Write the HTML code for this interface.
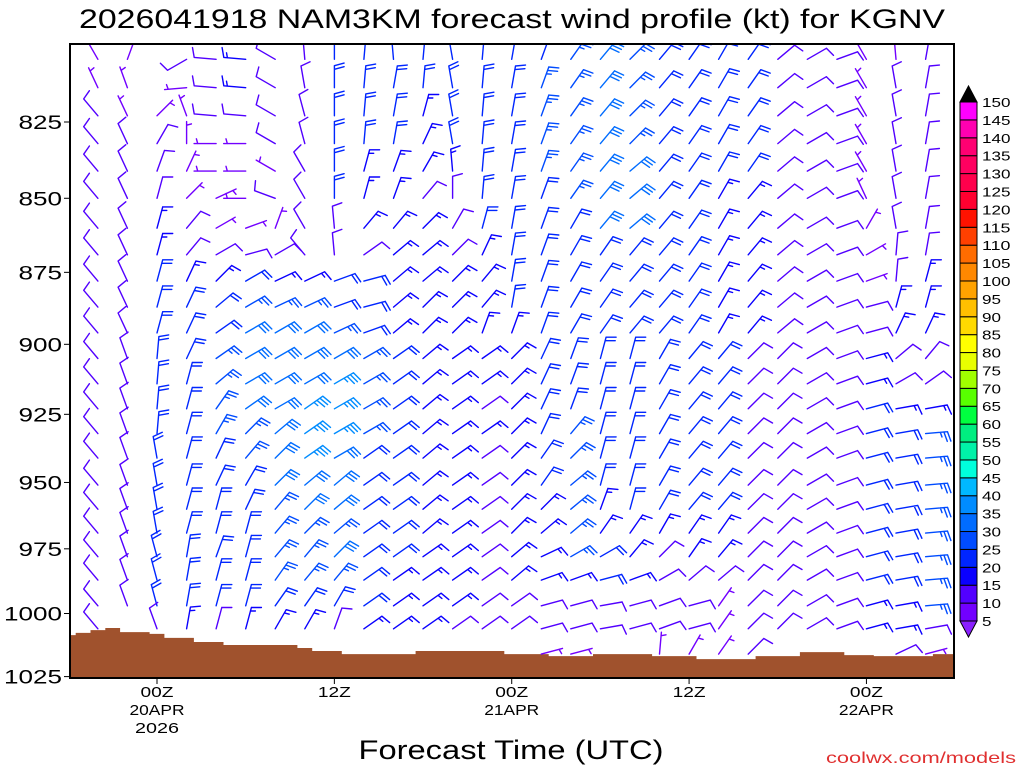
<!DOCTYPE html>
<html><head><meta charset="utf-8">
<style>
html,body{margin:0;padding:0;background:#fff;}
svg{display:block;}
text{font-family:"Liberation Sans",sans-serif;}
</style></head>
<body>
<svg id="chart" width="1024" height="768" viewBox="0 0 1024 768" xmlns="http://www.w3.org/2000/svg">
<defs><clipPath id="plotclip"><rect x="70" y="44" width="884" height="634"/></clipPath></defs>
<text x="512" y="28" text-anchor="middle" font-size="27" textLength="866" lengthAdjust="spacingAndGlyphs" fill="#000">2026041918 NAM3KM forecast wind profile (kt) for KGNV</text>
<g id="ground" clip-path="url(#plotclip)"></g>
<g id="barbs" clip-path="url(#plotclip)"></g>
<rect x="70" y="44" width="884" height="634" fill="none" stroke="#000" stroke-width="2"/>
<g id="yaxis"></g>
<g id="xaxis"></g>
<text x="511" y="759" text-anchor="middle" font-size="27" textLength="305" lengthAdjust="spacingAndGlyphs" fill="#000">Forecast Time (UTC)</text>
<text x="1016" y="763" text-anchor="end" font-size="16" textLength="190" lengthAdjust="spacingAndGlyphs" fill="#e03030">coolwx.com/models</text>
<g id="colorbar"></g>
</svg>
<script>
// ---- data ----
const levels = [805,814,823,832,841,850,860,869,878,887,896,905,914,923,932,941,951,960,969,978,987,997,1006,1016];
const hours = [-4,-2,0,2,4,6,8,10,12,14,16,18,20,22,24,26,28,30,32,34,36,38,40,42,44,46,48,50,52];
const sfcHours = [-6,-5,-4,-3,-2,-1,0,1,2,3,4,5,6,7,8,9,10,11,12,13,14,15,16,17,18,19,20,21,22,23,24,25,26,27,28,29,30,31,32,33,34,35,36,37,38,39,40,41,42,43,44,45,46,47,48,49,50,51,52,53,54];
const sfcPres = [1008.5,1007.6,1006.5,1005.7,1007.3,1007.3,1008.0,1009.6,1009.6,1011.2,1011.2,1012.4,1012.4,1012.4,1012.4,1012.4,1013.6,1014.8,1014.8,1016.0,1016.0,1016.0,1016.0,1016.0,1014.8,1014.8,1014.8,1014.8,1014.8,1014.8,1016.0,1016.0,1016.0,1016.8,1016.8,1016.8,1016.0,1016.0,1016.0,1016.0,1016.8,1016.8,1016.8,1018.0,1018.0,1018.0,1018.0,1016.8,1016.8,1016.8,1015.2,1015.2,1015.2,1016.4,1016.4,1016.8,1016.8,1016.8,1016.8,1016.0,1016.0];
const windDir = [
[330,335,320,320,320,320,320,320,320,320,320,320,320,320,320,320,320,320,320,320,320,320,320,0],
[20,340,335,335,335,335,335,335,335,335,335,340,340,340,340,340,340,340,340,340,340,340,0,0],
[0,0,45,30,20,15,15,15,15,15,15,5,5,5,5,350,350,350,350,345,345,345,340,0],
[240,265,340,0,25,45,40,40,25,25,25,25,15,15,15,15,15,15,15,10,10,10,10,0],
[275,275,275,270,270,65,60,60,45,50,55,55,50,35,30,25,25,15,15,20,15,15,15,0],
[275,275,275,270,270,270,70,75,60,60,60,60,60,55,45,40,30,25,15,15,15,15,15,0],
[300,300,300,300,300,290,20,60,65,65,60,60,60,60,50,45,45,40,40,40,35,35,30,0],
[355,350,345,345,330,330,330,320,65,65,60,60,60,55,55,55,50,45,45,40,40,35,30,0],
[0,0,0,0,0,0,355,355,70,70,65,60,60,60,60,60,50,50,50,45,40,30,20,0],
[5,5,5,5,15,15,40,55,75,75,70,60,60,60,60,55,55,55,55,55,55,55,55,0],
[355,10,10,10,20,20,40,50,50,50,50,55,55,55,55,55,55,55,55,55,55,55,55,0],
[5,5,15,25,30,40,45,50,50,45,45,50,50,50,50,50,50,50,50,55,55,55,55,0],
[350,350,350,350,355,0,30,45,45,45,45,55,55,55,55,55,55,55,55,55,55,55,55,0],
[5,5,5,5,5,5,15,25,40,40,20,55,55,55,55,55,55,55,55,55,55,55,55,0],
[10,10,10,10,10,10,10,10,10,10,20,45,45,45,45,45,45,45,45,50,50,55,55,0],
[20,20,20,20,20,20,20,20,20,20,20,25,25,25,25,35,35,45,50,65,70,75,75,75],
[35,35,35,35,35,35,30,30,30,30,30,20,20,20,40,45,50,50,50,60,70,75,75,75],
[40,40,40,40,40,40,40,35,35,35,35,15,15,15,15,15,15,20,35,60,75,80,80,0],
[45,45,45,45,50,50,50,40,40,40,40,15,15,15,15,15,15,15,35,40,70,75,75,0],
[40,40,40,40,40,40,40,40,40,40,40,30,30,30,30,30,30,30,30,45,60,70,70,5],
[35,35,35,35,35,35,35,35,35,35,35,40,40,40,40,40,40,40,35,35,50,75,75,30],
[30,30,30,30,30,30,30,30,30,30,30,40,40,40,40,40,40,40,35,40,50,35,35,35],
[35,35,35,35,35,40,40,40,40,40,40,45,45,45,45,45,45,45,45,45,45,45,45,45],
[50,50,50,50,50,50,50,50,50,50,50,45,45,45,45,45,45,45,45,45,45,45,45,0],
[60,60,60,60,60,60,60,60,60,60,60,60,60,60,60,60,60,60,60,60,60,60,60,0],
[70,70,70,70,70,70,70,70,70,70,70,70,70,70,70,70,70,70,70,70,70,70,70,0],
[330,330,330,330,330,335,30,60,70,75,75,75,75,75,75,75,75,75,75,75,75,75,75,0],
[355,350,350,350,350,350,350,5,5,15,25,50,60,80,80,80,80,80,80,80,80,80,80,65],
[10,10,10,10,10,10,10,10,15,15,25,40,55,80,85,85,85,85,85,85,85,85,80,75]
];
const windSpd = [
[5,5,10,10,10,10,10,10,10,10,10,10,10,10,10,10,10,10,10,10,10,10,10,0],
[5,5,5,10,10,10,10,10,10,10,10,10,10,10,10,10,10,10,10,10,10,10,0,0],
[0,0,5,10,10,10,15,15,20,20,20,20,20,20,20,20,20,20,20,20,20,20,10,0],
[10,5,5,5,5,5,10,10,15,20,20,20,20,20,20,20,20,20,20,20,20,20,15,0],
[10,10,10,5,5,5,5,10,15,20,20,25,25,25,25,20,20,20,20,20,20,20,10,0],
[15,15,10,5,5,5,5,10,20,25,30,30,30,30,25,25,20,20,20,20,20,20,15,0],
[10,10,10,10,5,10,5,10,15,25,30,30,30,30,30,30,30,25,25,25,25,20,15,0],
[10,10,10,10,10,10,10,10,15,25,30,30,30,35,35,35,30,30,25,25,25,20,15,0],
[20,20,20,20,20,20,10,10,20,20,25,30,35,35,35,30,30,30,25,30,25,20,10,0],
[20,20,20,20,15,15,15,10,20,20,20,25,25,25,25,20,20,20,20,20,20,20,15,0],
[20,20,20,20,15,15,15,15,15,15,15,20,20,20,20,20,20,20,20,20,15,15,15,0],
[20,20,15,15,15,10,15,15,15,15,15,15,15,15,15,15,15,15,15,15,15,15,15,0],
[20,20,20,20,15,10,10,10,15,15,15,15,15,15,15,15,15,15,15,15,15,15,10,0],
[20,20,20,20,20,20,20,15,15,15,15,15,15,10,15,10,10,10,10,10,10,10,10,0],
[20,20,20,20,20,20,20,20,20,20,15,15,15,15,15,15,15,15,15,15,15,10,10,0],
[20,25,25,25,25,20,20,20,20,20,20,20,20,20,20,20,20,15,15,15,15,10,10,5],
[25,25,25,25,25,25,20,20,20,20,20,20,20,20,25,25,25,25,25,25,15,10,10,5],
[30,30,30,30,30,30,30,20,20,20,20,20,20,20,20,20,20,15,15,20,20,10,10,0],
[25,25,25,25,30,30,30,20,20,20,20,20,20,20,20,20,20,20,15,15,15,10,10,0],
[20,20,20,20,20,20,20,20,20,20,20,20,20,20,20,20,20,20,15,10,10,10,10,5],
[20,20,20,20,20,20,20,20,20,20,20,20,20,20,20,20,20,20,15,15,10,10,10,5],
[20,20,20,20,20,15,15,15,15,15,15,20,20,20,20,20,20,20,15,15,10,5,5,5],
[20,20,20,20,20,15,15,15,15,15,15,10,10,10,10,10,10,10,10,10,10,10,10,10],
[10,10,10,10,10,10,10,10,10,10,10,10,10,10,10,10,10,10,10,10,10,10,10,0],
[10,10,10,10,10,10,10,10,10,10,10,10,10,10,10,10,10,10,10,10,10,10,10,0],
[10,10,10,10,10,10,10,10,10,10,10,10,10,10,10,10,10,10,10,10,10,10,10,0],
[5,5,5,5,5,5,5,5,5,10,10,15,15,20,20,20,20,20,20,20,20,15,15,0],
[5,10,10,10,10,10,10,10,10,15,15,10,10,15,20,20,20,20,20,20,20,15,15,10],
[10,10,10,10,10,10,10,10,15,15,15,10,10,15,25,25,25,25,25,25,25,25,10,5]
];
const yTickValues = [825,850,875,900,925,950,975,1000,1025];
const xTickHours = [0,12,24,36,48];
const xTickLine1 = ["00Z","12Z","00Z","12Z","00Z"];
const xTickLine2 = ["20APR","","21APR","","22APR"];
const xTickLine3 = ["2026","","","",""];
const cbarValues = [5,10,15,20,25,30,35,40,45,50,55,60,65,70,75,80,85,90,95,100,105,110,115,120,125,130,135,140,145,150];
const cbarColors = ["#7200ff","#5200ff","#0a00ff","#0026ff","#004cff","#006cff","#008cff","#00b8ff","#00ffdc","#00f2a8","#00ee80","#00ff40","#58ff00","#a0ff00","#e8ff00","#ffff00","#ffda00","#ffc000","#ffa200","#ff8800","#ff6c00","#ff4000","#ff1200","#ff0030","#ff004c","#ff0060","#ff0072","#ff00b0","#ff00ff"];

// ---- scales ----
const NS = "http://www.w3.org/2000/svg";
function yP(p){ return 122 + Math.log(p/825)*2555; }
function xT(h){ return 157 + h*14.78; }
function mk(tag, attrs, parent){ const e=document.createElementNS(NS,tag); for(const k in attrs) e.setAttribute(k,attrs[k]); parent.appendChild(e); return e; }
function colorFor(s){ let i=Math.floor(s/5)-1; if(i<0)i=0; if(i>=cbarColors.length)i=cbarColors.length-1; return cbarColors[i]; }

// ground
const gG=document.getElementById('ground');
let d="M70,678";
for(let i=0;i<sfcHours.length;i++){
  const x0=Math.max(70,xT(sfcHours[i]-0.5)), x1=Math.min(954,xT(sfcHours[i]+0.5));
  const y=yP(sfcPres[i]).toFixed(1);
  d+=" L"+x0.toFixed(1)+","+y+" L"+x1.toFixed(1)+","+y;
}
d+=" L954,678 Z";
const gp=mk('path',{d:d,fill:"#a0522d"},gG);



// barbs
const gB=document.getElementById('barbs');
const L=22, FL=10, SP=3.6, FA=75;
for(let c=0;c<hours.length;c++){
  for(let r=0;r<levels.length;r++){
    const s=windSpd[c][r]; if(!s) continue;
    const dir=windDir[c][r]*Math.PI/180;
    const bx=xT(hours[c]), by=yP(levels[r]);
    const ux=Math.sin(dir), uy=-Math.cos(dir);
    const fa=(windDir[c][r]+FA)*Math.PI/180, fx=Math.sin(fa), fy=-Math.cos(fa);
    const tx=bx+ux*L, ty=by+uy*L;
    let p="M"+bx.toFixed(1)+","+by.toFixed(1)+" L"+tx.toFixed(1)+","+ty.toFixed(1);
    let rem=s, pos=0;
    const flags=Math.floor(rem/50); rem-=flags*50;
    for(let k=0;k<flags;k++){ const ax=tx-ux*pos, ay=ty-uy*pos; const cx=tx-ux*(pos+5), cy=ty-uy*(pos+5);
      p+=" M"+ax.toFixed(1)+","+ay.toFixed(1)+" L"+(ax+fx*FL).toFixed(1)+","+(ay+fy*FL).toFixed(1)+" L"+cx.toFixed(1)+","+cy.toFixed(1); pos+=6; }
    const full=Math.floor(rem/10); rem-=full*10;
    for(let k=0;k<full;k++){ const ax=tx-ux*pos, ay=ty-uy*pos;
      p+=" M"+ax.toFixed(1)+","+ay.toFixed(1)+" l"+(fx*FL).toFixed(1)+","+(fy*FL).toFixed(1); pos+=SP; }
    if(rem>=5){ if(pos===0) pos=SP; const ax=tx-ux*pos, ay=ty-uy*pos;
      p+=" M"+ax.toFixed(1)+","+ay.toFixed(1)+" l"+(fx*FL/2).toFixed(1)+","+(fy*FL/2).toFixed(1); }
    const e=mk('path',{d:p,fill:"none",stroke:colorFor(s),"stroke-width":"1.4","stroke-linecap":"round"},gB);
    
    
  }
}

// y axis
const gY=document.getElementById('yaxis');
yTickValues.forEach(v=>{
  const y=yP(v);
  const t=mk('line',{x1:64,x2:70,y1:y,y2:y,stroke:"#000","stroke-width":"1"},gY);
  
  
  const lab=String(v);
  const tx=mk('text',{x:62,y:y+7,"text-anchor":"end","font-size":"19",textLength:(lab.length*14.5),lengthAdjust:"spacingAndGlyphs",fill:"#000"},gY);
  tx.textContent=lab;
  
  
});
// x axis
const gX=document.getElementById('xaxis');
xTickHours.forEach((h,i)=>{
  const x=xT(h);
  const t=mk('line',{x1:x,x2:x,y1:678,y2:684,stroke:"#000","stroke-width":"1"},gX);
  
  
  [[xTickLine1[i],697],[xTickLine2[i],715],[xTickLine3[i],733]].forEach(([s,y])=>{
    if(!s) return;
    const tx=mk('text',{x:x,y:y,"text-anchor":"middle","font-size":"15",textLength:(s.length*11),lengthAdjust:"spacingAndGlyphs",fill:"#000"},gX);
    tx.textContent=s;
    
    
  });
});

// colorbar
const gC=document.getElementById('colorbar');
function yC(v){ return 621 - (v-5)/145*519; }
for(let i=0;i<cbarColors.length;i++){
  const y0=yC(cbarValues[i+1]), y1=yC(cbarValues[i]);
  const r=mk('rect',{x:960,y:y0,width:17,height:y1-y0,fill:cbarColors[i],stroke:"#000","stroke-width":"1"},gC);
  
  
}
const tt=mk('polygon',{points:"960,"+yC(150)+" 977,"+yC(150)+" 968.5,86",fill:"#000",stroke:"#000","stroke-width":"1"},gC);


const tb=mk('polygon',{points:"960,"+yC(5)+" 977,"+yC(5)+" 968.5,637",fill:"#8a20ff",stroke:"#000","stroke-width":"1"},gC);


cbarValues.forEach(v=>{
  const s=String(v);
  const tx=mk('text',{x:982,y:yC(v)+5,"font-size":"13",textLength:(s.length*9.5),lengthAdjust:"spacingAndGlyphs",fill:"#000"},gC);
  tx.textContent=s;
  
  
});
</script>
</body></html>
